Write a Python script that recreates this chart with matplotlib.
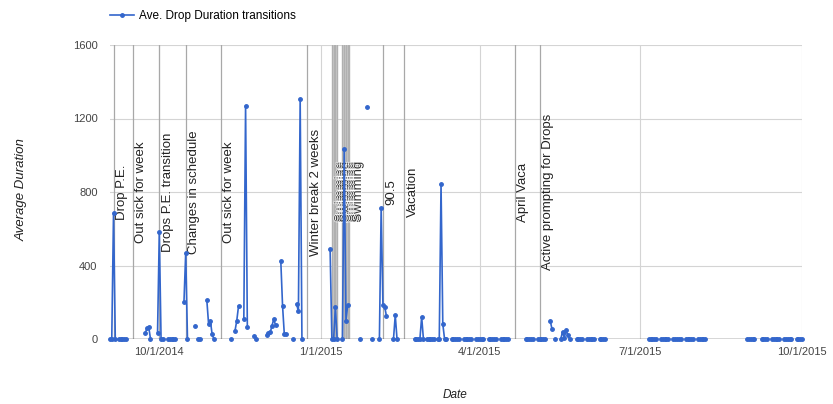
import datetime as dt
import matplotlib
matplotlib.use('Agg')
import matplotlib.pyplot as plt
import matplotlib.dates as mdates
import matplotlib.patheffects as pe
from matplotlib.lines import Line2D
from matplotlib.transforms import blended_transform_factory, offset_copy

plt.rcParams['font.family'] = ['Liberation Sans', 'DejaVu Sans']

BLUE = '#3366cc'

# runs of consecutive days: (first day, value for each day)
runs = [
    ("2014-09-03", [0, 0, 685, 0]),
    ("2014-09-08", [0, 0, 0, 0, 0]),
    ("2014-09-23", [30, 60, 65, 0]),
    ("2014-09-30", [35, 580, 0, 0]),
    ("2014-10-06", [0, 0, 0, 0, 0]),
    ("2014-10-15", [200, 470, 0]),
    ("2014-10-21", [70]),
    ("2014-10-23", [0, 0]),
    ("2014-10-28", [210, 80, 100, 25, 0]),
    ("2014-11-11", [0]),
    ("2014-11-13", [45, 100, 180]),
    ("2014-11-18", [110, 1270, 65]),
    ("2014-11-24", [15, 0]),
    ("2014-12-01", [20, 35, 36, 72, 109, 75]),
    ("2014-12-09", [425, 180, 25, 25]),
    ("2014-12-16", [0]),
    ("2014-12-18", [190, 150, 1305, 0]),
    ("2015-01-06", [490, 0, 0, 175, 0]),
    ("2015-01-13", [0, 1035, 100, 185]),
    ("2015-01-23", [0]),
    ("2015-01-27", [1265]),
    ("2015-01-30", [0]),
    ("2015-02-03", [0, 715, 185, 175, 125]),
    ("2015-02-11", [0, 130, 0]),
    ("2015-02-23", [0, 0, 0, 0, 120, 0]),
    ("2015-03-02", [0, 0, 0, 0, 0]),
    ("2015-03-08", [0, 0, 842, 82, 0]),
    ("2015-03-13", [0]),
    ("2015-03-16", [0, 0, 0, 0, 0]),
    ("2015-03-23", [0, 0, 0, 0, 0]),
    ("2015-03-30", [0, 0, 0, 0, 0]),
    ("2015-04-06", [0, 0, 0, 0, 0]),
    ("2015-04-13", [0, 0, 0, 0, 0]),
    ("2015-04-27", [0, 0, 0, 0, 0]),
    ("2015-05-04", [0, 0, 0, 0, 0]),
    ("2015-05-11", [100, 55]),
    ("2015-05-14", [0]),
    ("2015-05-17", [0, 40, 5, 48, 20, 0]),
    ("2015-05-26", [0, 0, 0, 0]),
    ("2015-06-01", [0, 0, 0, 0, 0]),
    ("2015-06-08", [0, 0, 0, 0]),
    ("2015-07-06", [0, 0, 0, 0, 0]),
    ("2015-07-13", [0, 0, 0, 0, 0]),
    ("2015-07-20", [0, 0, 0, 0, 0]),
    ("2015-07-27", [0, 0, 0, 0, 0]),
    ("2015-08-03", [0, 0, 0, 0, 0]),
    ("2015-08-31", [0, 0, 0, 0, 0]),
    ("2015-09-08", [0, 0, 0, 0]),
    ("2015-09-14", [0, 0, 0, 0, 0]),
    ("2015-09-21", [0, 0, 0, 0, 0]),
    ("2015-09-28", [0, 0, 0, 0]),
]

notes = [
    ("2014-09-05", "Drop P.E."),
    ("2014-09-16", "Out sick for week"),
    ("2014-10-01", "Drops P.E. transition"),
    ("2014-10-16", "Changes in schedule"),
    ("2014-11-05", "Out sick for week"),
    ("2014-12-24", "Winter break 2 weeks"),
    ("2015-02-05", "90.5"),
    ("2015-02-17", "Vacation"),
    ("2015-04-21", "April Vaca"),
    ("2015-05-05", "Active prompting for Drops"),
]
swim_days = ["2015-01-07", "2015-01-08", "2015-01-09", "2015-01-10",
             "2015-01-13", "2015-01-14", "2015-01-15", "2015-01-16", "2015-01-17"]
swim_bands = [("2015-01-07", "2015-01-10"), ("2015-01-13", "2015-01-17")]

tick_days = ["2014-10-01", "2015-01-01", "2015-04-01", "2015-07-01", "2015-10-01"]
tick_labels = ["10/1/2014", "1/1/2015", "4/1/2015", "7/1/2015", "10/1/2015"]
y_ticks = [0, 400, 800, 1200, 1600]


def day(s):
    return dt.date.fromisoformat(s)


fig = plt.figure(figsize=(8.33, 4.04), dpi=100)
ax = fig.add_axes([110 / 833, 65 / 404, 692 / 833, 294 / 404])

ax.set_xlim(day("2014-09-03"), day("2015-10-01"))
ax.set_ylim(0, 1600)
for s in ax.spines.values():
    s.set_visible(False)

ax.set_xticks([mdates.date2num(day(t)) for t in tick_days])
ax.set_xticklabels(tick_labels)
ax.set_yticks(y_ticks)
ax.tick_params(length=0, labelsize=8, labelcolor='#444444')
ax.tick_params(axis='y', pad=9)
ax.tick_params(axis='x', pad=6)
ax.grid(True, color='#d4d4d4', lw=0.8)
ax.set_axisbelow(True)
ax.axhline(0, color='#444444', lw=1, zorder=2)

tr = blended_transform_factory(ax.transData, ax.transAxes)
tr_txt = offset_copy(tr, fig=fig, x=2.5, y=0, units='dots')
for a, b in swim_bands:
    ax.axvspan(day(a), day(b), color='#c4c4c4', lw=1, zorder=1)
for d in swim_days:
    ax.axvline(day(d), color='#b0b0b0', lw=0.8, zorder=1)
    ax.text(day(d), 0.5, "Swimming", transform=tr_txt, rotation=90, ha='left',
            va='center', fontsize=9.5, color='#333333', zorder=3,
            path_effects=[pe.withStroke(linewidth=1.0, foreground='white')])

for d, label in notes:
    ax.axvline(day(d), color='#a8a8a8', lw=0.9, zorder=1)
    ax.text(day(d), 0.5, label, transform=tr_txt, rotation=90, ha='left',
            va='center', fontsize=9.5, color='#222222', zorder=3)

for start, vals in runs:
    xs = [day(start) + dt.timedelta(days=i) for i in range(len(vals))]
    ax.plot(xs, vals, '-o', color=BLUE, lw=1.2, ms=2.5, zorder=4, clip_on=False)

h = Line2D([], [], color=BLUE, lw=1.2, marker='o', ms=2.5)
ax.legend([h], ["Ave. Drop Duration transitions"], loc='center left',
          bbox_to_anchor=(110 / 833, 1 - 16 / 404), bbox_transform=fig.transFigure,
          frameon=False, fontsize=8.5, handlelength=2.0, handletextpad=0.45,
          borderpad=0, borderaxespad=0)

fig.text(22 / 833, 1 - 190 / 404, "Average Duration", rotation=90, ha='center',
         va='center', style='italic', fontsize=9.5, color='#222222')
fig.text(455 / 833, 1 - 395 / 404, "Date", ha='center', va='center',
         style='italic', fontsize=8.5, color='#222222')

fig.savefig("out.png", dpi=100)
print('wrote out.png')
